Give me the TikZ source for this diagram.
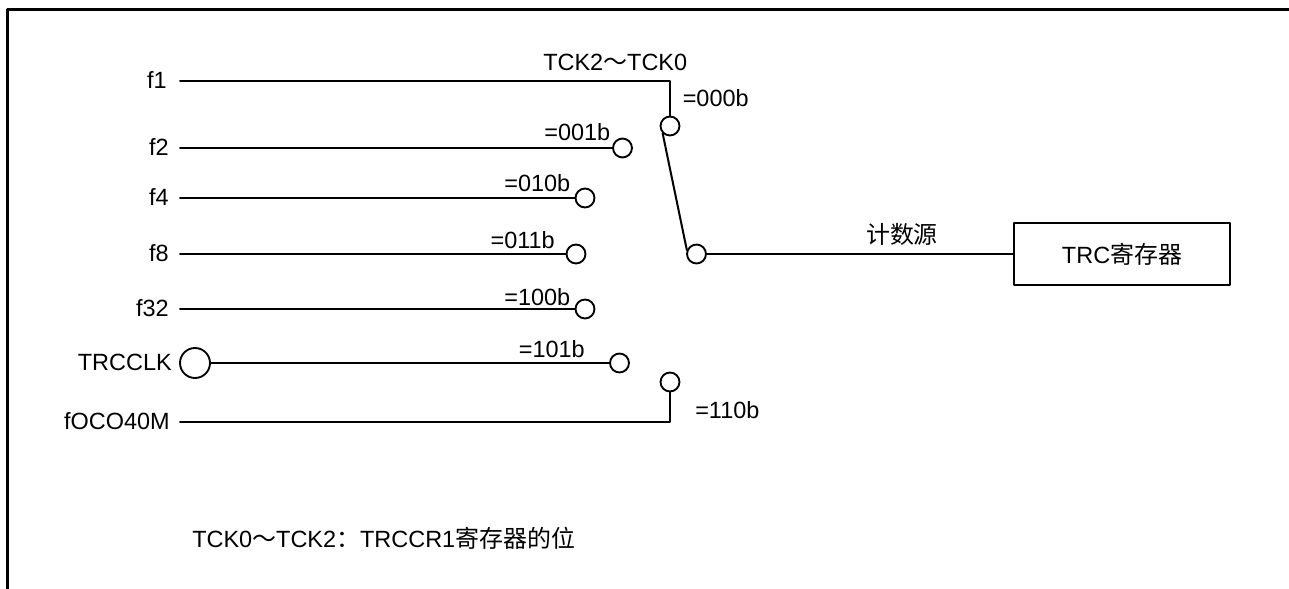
\documentclass[tikz,border=0pt]{standalone}
\usepackage{fontspec}
\setmainfont{Liberation Sans}
\newfontfamily\cjk[Scale=1.02]{Noto Sans CJK SC}
\tikzset{
  wire/.style={line width=1.5pt},
  term/.style={circle,draw,line width=1.4pt,fill=white,inner sep=0pt,minimum size=14.2pt},
  lab/.style={inner sep=0pt,font=\fontsize{17.6}{20}\selectfont},
  regbox/.style={rectangle,draw,line width=1.5pt,inner sep=0pt,minimum width=162pt,minimum height=46.5pt,font=\fontsize{17.6}{20}\selectfont},
}
\begin{document}
\begin{tikzpicture}[x=0.75pt,y=-0.75pt,line cap=round,line join=round]
  \useasboundingbox (0,0) rectangle (1289,589);
  \draw[line width=2.7pt,line cap=butt] (1289,9.5) -- (7.5,9.5) -- (7.5,589);
  % input names
  \node[lab,anchor=base east] (f1) at (167,88) {f1};
  \node[lab,anchor=base east] (f2) at (169,155) {f2};
  \node[lab,anchor=base east] (f4) at (169,205) {f4};
  \node[lab,anchor=base east] (f8) at (169,261) {f8};
  \node[lab,anchor=base east] (f32) at (169,316) {f32};
  \node[lab,anchor=base east] (trcclk) at (172,370) {TRCCLK};
  \node[lab,anchor=base east] (foco) at (170,429) {fOCO40M};
  % free ends of the wires
  \coordinate (s1) at (180,81);
  \coordinate (s2) at (180,148);
  \coordinate (s4) at (180,198);
  \coordinate (s8) at (180,254);
  \coordinate (s32) at (180,309);
  \coordinate (sfoco) at (180,422);
  \coordinate (c1) at (670,81);
  \coordinate (cfoco) at (670,422);
  % terminals
  \node[term] (t000) at (670,126) {};
  \node[term] (t001) at (622.5,148) {};
  \node[term] (t010) at (585,198) {};
  \node[term] (t011) at (576,254) {};
  \node[term] (t100) at (585,309) {};
  \node[term,minimum size=22.5pt] (pin) at (195,363) {};
  \node[term] (t101) at (619.5,363) {};
  \node[term] (t110) at (670,382) {};
  \node[term] (com) at (696.5,254) {};
  \node[regbox] (trc) at (1122,254) {TRC{\cjk 寄存器}};
  % wires
  \draw[wire] (s1) -- (c1) -- (t000);
  \draw[wire] (s2) -- (t001);
  \draw[wire] (s4) -- (t010);
  \draw[wire] (s8) -- (t011);
  \draw[wire] (s32) -- (t100);
  \draw[wire] (pin) -- (t101);
  \draw[wire] (sfoco) -- (cfoco) -- (t110);
  \draw[wire] (t000.225) -- (com.158);
  \draw[wire] (com) -- (trc);
  % selector values
  \node[lab,anchor=base west] (sel) at (543,70.5) {TCK2{\cjk ～}TCK0};
  \node[lab,anchor=base west] (v000) at (682.5,106) {=000b};
  \node[lab,anchor=base east] (v001) at (610.5,140) {=001b};
  \node[lab,anchor=base east] (v010) at (570.5,191) {=010b};
  \node[lab,anchor=base east] (v011) at (555,248) {=011b};
  \node[lab,anchor=base east] (v100) at (570.5,305) {=100b};
  \node[lab,anchor=base east] (v101) at (585,357) {=101b};
  \node[lab,anchor=base west] (v110) at (695,418) {=110b};
  \node[lab] (src) at (902,234) {\cjk 计数源};
  \node[lab,anchor=base west] (note) at (192,547) {TCK0{\cjk ～}TCK2{\cjk ：}TRCCR1{\cjk 寄存器的位}};
\end{tikzpicture}
\end{document}
